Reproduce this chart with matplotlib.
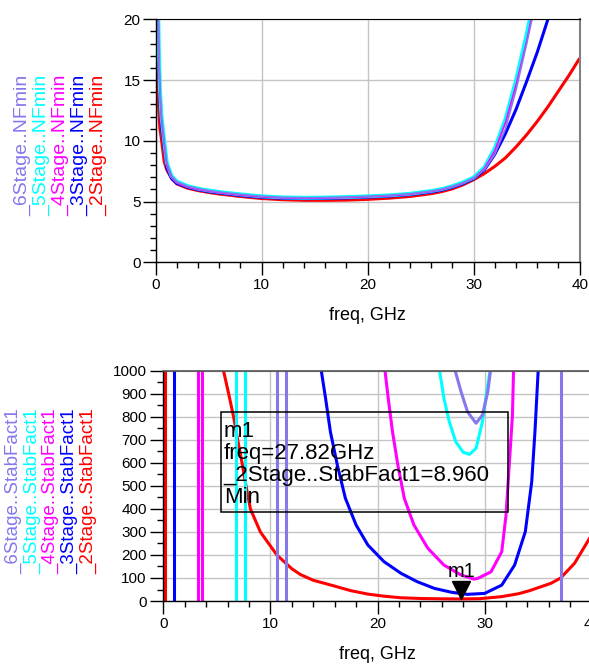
import numpy as np
import matplotlib
matplotlib.use("Agg")
import matplotlib.pyplot as plt
from matplotlib.ticker import MultipleLocator
from matplotlib.patches import Rectangle
from matplotlib.transforms import offset_copy

plt.rcParams['font.family'] = ['Liberation Sans', 'DejaVu Sans']

nan = np.nan

# stage colours and names (6, 5, 4, 3, 2 stages)
stages = ['_6Stage', '_5Stage', '_4Stage', '_3Stage', '_2Stage']
colors = ['#8478EC', '#00FFFF', '#FF00FF', '#0000FF', '#FF0000']

# ---- minimum noise figure vs frequency ----
nf_freq = [0.1, 0.2, 0.3, 0.4, 0.55, 0.8, 1.05, 1.5, 2, 3, 4, 5, 6, 8, 10, 12, 14, 16,
           18, 20, 22, 24, 26, 27, 28, 29, 30, 31, 32, 33, 34, 35, 36, 37, 38, 39, 40]
nf_6 = [30, 23, 17.5, 14.3, 12, 10, 8.2, 7.1, 6.62, 6.27, 6.06, 5.91, 5.79, 5.59, 5.43, 5.34,
        5.31, 5.33, 5.37, 5.43, 5.51, 5.64, 5.86, 6.02, 6.25, 6.55, 6.93, 7.6, 8.9, 11.0,
        14.2, 18.0, 22.0, nan, nan, nan, nan]
nf_5 = [32, 23, 17.5, 14.3, 12, 10, 8.2, 7.1, 6.65, 6.28, 6.06, 5.91, 5.79, 5.59, 5.43, 5.34,
        5.31, 5.33, 5.37, 5.43, 5.51, 5.64, 5.87, 6.03, 6.27, 6.58, 6.98, 7.8, 9.4, 11.8,
        15.0, 18.8, 23.0, nan, nan, nan, nan]
nf_4 = [29, 22.5, 17, 14, 11.7, 9.8, 8.0, 7.0, 6.55, 6.2, 6.0, 5.85, 5.73, 5.53, 5.38, 5.3,
        5.27, 5.29, 5.33, 5.39, 5.47, 5.6, 5.82, 5.98, 6.22, 6.52, 6.92, 7.7, 9.2, 11.5,
        14.6, 18.2, 22.5, nan, nan, nan, nan]
nf_3 = [28, 21, 16, 13.3, 11.2, 9.4, 7.8, 6.9, 6.5, 6.18, 5.97, 5.82, 5.7, 5.5, 5.35, 5.27,
        5.24, 5.26, 5.3, 5.36, 5.44, 5.57, 5.78, 5.94, 6.18, 6.48, 6.88, 7.6, 8.9, 10.6,
        12.6, 14.9, 17.3, 20.0, 22.7, nan, nan]
nf_2 = [20.5, 14.8, 12.3, 11.0, 10.1, 8.3, 7.6, 6.9, 6.45, 6.1, 5.9, 5.75, 5.62, 5.42, 5.25,
        5.15, 5.1, 5.1, 5.12, 5.18, 5.28, 5.42, 5.65, 5.82, 6.05, 6.38, 6.8, 7.3, 7.9, 8.6,
        9.5, 10.5, 11.6, 12.8, 14.1, 15.4, 16.8]

# ---- stability factor vs frequency ----
sf6_freq = [27.25, 27.8, 28.4, 29.2, 29.8, 30.3, 30.55]
sf6 = [1000, 909, 822, 772, 808, 909, 1000]
sf5_freq = [25.8, 26.2, 26.7, 27.3, 28.0, 28.6, 29.2, 29.8, 30.2, 30.5]
sf5 = [1000, 880, 779, 692, 646, 637, 663, 779, 909, 1000]
sf4_freq = [20.7, 21.0, 21.4, 21.9, 22.5, 23.4, 24.7, 26.2, 27.8, 29.0, 29.4, 30.6, 31.6,
            32.0, 32.3, 32.6, 32.7]
sf4 = [1000, 880, 735, 590, 446, 330, 229, 156, 113, 95, 99, 127, 214, 373, 590, 808, 1000]
sf3_freq = [14.75, 15.15, 15.6, 16.25, 17.0, 18.0, 19.1, 20.6, 22.2, 23.7, 25.3, 26.9, 28.4,
            30.0, 31.6, 32.8, 33.8, 34.4, 34.7, 35.0]
sf3 = [1000, 880, 735, 590, 446, 330, 243, 171, 120, 84, 55, 38, 29, 33, 69, 156, 301, 518,
       735, 1000]
sf2_freq = [5.62, 6.1, 6.56, 6.94, 7.35, 7.72, 8.13, 9.06, 10.6, 12.0, 12.8, 14.0, 15.9, 17.5,
            19.1, 20.6, 22.2, 24.0, 26.0, 27.82, 29.5, 31.6, 33.2, 34.2, 36.2, 37.1, 38.4, 39.9]
sf2 = [1000, 900, 800, 700, 600, 500, 400, 300, 200, 140, 115, 90, 66, 45, 30, 21, 14, 11,
       9.5, 8.96, 10, 19, 32, 45, 77, 100, 164, 280]

# resonances where the stability factor runs off the scale
poles6 = [10.6, 11.5, 37.1]
poles5 = [6.8, 7.6]
poles4 = [3.2, 3.6]
poles3 = [1.03]
poles2 = [0.17]

# marker m1 (minimum of _2Stage..StabFact1)
m1_freq = 27.82
m1_val = 8.960

fig = plt.figure(figsize=(5.89, 6.71), dpi=100)
ax1 = fig.add_axes([0.2643, 0.6091, 0.7199, 0.3621])
ax2 = fig.add_axes([0.2773, 0.1043, 0.7273, 0.3432])


def style_axes(ax, ymajor, yminor, ypad):
    ax.set_xlim(0, 40)
    ax.xaxis.set_major_locator(MultipleLocator(10))
    ax.xaxis.set_minor_locator(MultipleLocator(2))
    ax.yaxis.set_major_locator(MultipleLocator(ymajor))
    ax.yaxis.set_minor_locator(MultipleLocator(yminor))
    ax.tick_params(which='major', direction='out', length=9.4, width=1, labelsize=11)
    ax.tick_params(which='minor', direction='out', length=4.3, width=1)
    ax.tick_params(axis='x', which='major', pad=2)
    ax.tick_params(axis='y', which='major', pad=ypad)
    ax.grid(True, which='major', color='#C4C4C4', lw=1)
    ax.set_axisbelow(True)
    for s in ('left', 'bottom'):
        ax.spines[s].set_color('black')
        ax.spines[s].set_linewidth(1)
    ax.set_xlabel('freq, GHz', fontsize=13, labelpad=11)


# top: NFmin
nf_all = [nf_6, nf_5, nf_4, nf_3, nf_2]
nf_lw = [1.2, 2.8, 1.2, 2.2, 2.2]
for i in [4, 3, 1, 2, 0]:
    ax1.plot(nf_freq, nf_all[i], color=colors[i], lw=nf_lw[i], solid_capstyle='butt')
ax1.set_ylim(0, 20)
style_axes(ax1, 5, 1, 1.5)
ax1.spines['top'].set_color('black')
ax1.spines['right'].set_color('#808080')
ax1.spines['right'].set_linewidth(1.5)

for i, name in enumerate(stages):
    fig.text((23 + 18.9 * i) / 589, 1 - 145 / 671, name + '..NFmin', rotation=90,
             ha='center', va='center', color=colors[i], fontsize=14)

# bottom: StabFact1
sf_freqs = [sf6_freq, sf5_freq, sf4_freq, sf3_freq, sf2_freq]
sf_vals = [sf6, sf5, sf4, sf3, sf2]
poles = [poles6, poles5, poles4, poles3, poles2]
for i in [4, 3, 2, 1, 0]:
    ax2.plot(sf_freqs[i], sf_vals[i], color=colors[i], lw=2.2)
    for p in poles[i]:
        ax2.axvline(p, color=colors[i], lw=2.2)
ax2.set_ylim(0, 1000)
style_axes(ax2, 100, 50, 2.5)
ax2.spines['top'].set_color('#505050')
ax2.spines['top'].set_linewidth(1.2)
ax2.spines['right'].set_visible(False)

for i, name in enumerate(stages):
    fig.text((13.3 + 18.9 * i) / 589, 1 - 490.8 / 671, name + '..StabFact1', rotation=90,
             ha='center', va='center', color=colors[i], fontsize=13.5)

# marker m1
tip = offset_copy(ax2.transData, fig=fig, y=6.5, units='points')
ax2.plot([m1_freq], [m1_val], marker='v', ms=13, color='black', transform=tip,
         clip_on=False, zorder=5)
ax2.annotate('m1', (m1_freq, m1_val), xytext=(0, 13), textcoords='offset points',
             ha='center', va='bottom', fontsize=14.5, zorder=6)

ax2.add_patch(Rectangle((0.134, 0.385), 0.671, 0.434, transform=ax2.transAxes,
                        fill=False, ec='black', lw=1.1, zorder=4))
ax2.text(0.141, 0.783,
         'm1\nfreq=%.2fGHz\n_2Stage..StabFact1=%.3f\nMin' % (m1_freq, m1_val),
         transform=ax2.transAxes, ha='left', va='top', fontsize=16, linespacing=1.06,
         zorder=5)

fig.savefig('out.png', dpi=100)
